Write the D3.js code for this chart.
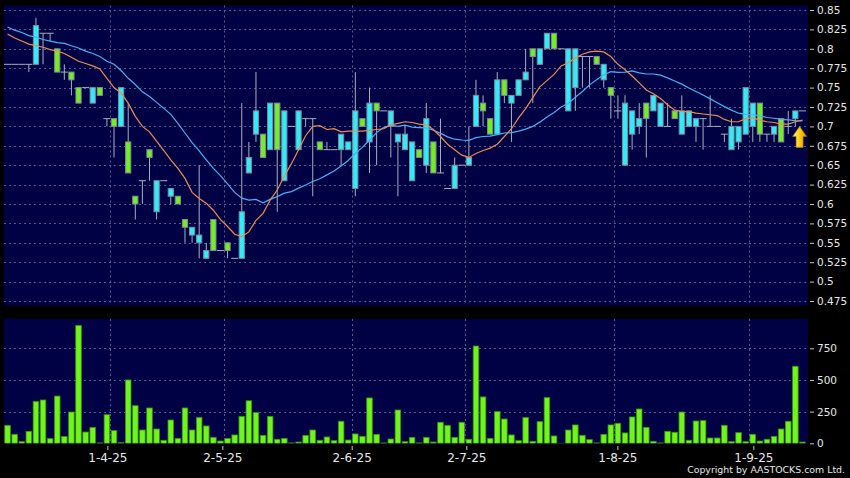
<!DOCTYPE html>
<html><head><meta charset="utf-8">
<script src="https://cdn.jsdelivr.net/npm/d3@7"></script>
<style>
html,body{margin:0;padding:0;background:#000;}
svg{display:block;}
</style></head><body>
<svg id="c" width="850" height="478"></svg>
<script>
// ---------- DATA ----------
const opens=[
.78,.78,.78,.78,.78,.82,.82,.80,.77,.77,
.75,.75,.73,.75,.71,.71,.70,.68,.61,.63,
.67,.59,.63,.61,.61,.58,.56,.55,.53,.58,
.54,.55,.53,.53,.64,.69,.69,.67,.73,.63,
.70,.67,.71,.71,.68,.67,.67,.67,.67,.62,
.71,.68,.73,.72,.70,.68,.67,.63,.67,.65,
.68,.64,.62,.62,.65,.65,.70,.73,.71,.69,
.76,.73,.74,.76,.80,.78,.80,.82,.80,.72,
.75,.79,.79,.79,.76,.75,.72,.65,.69,.70,
.73,.72,.70,.70,.72,.69,.70,.70,.71,.70,
.70,.69,.67,.68,.69,.70,.73,.69,.69,.71,
.70,.71,.72];
const highs=[
.78,.78,.78,.78,.84,.82,.82,.80,.78,.77,
.75,.75,.75,.75,.71,.71,.75,.73,.61,.63,
.67,.63,.63,.62,.61,.58,.57,.65,.55,.58,
.54,.55,.53,.73,.68,.77,.69,.73,.73,.72,
.70,.72,.71,.71,.68,.68,.67,.69,.68,.77,
.71,.75,.73,.72,.72,.69,.70,.68,.67,.73,
.68,.71,.62,.66,.65,.70,.76,.74,.71,.77,
.76,.74,.76,.80,.80,.80,.82,.82,.80,.80,
.80,.79,.79,.79,.78,.75,.74,.74,.72,.73,
.73,.74,.73,.73,.72,.74,.72,.71,.71,.74,
.70,.69,.71,.70,.75,.73,.73,.69,.70,.71,
.72,.72,.72];
const lows=[
.78,.78,.78,.77,.78,.78,.81,.77,.76,.74,
.73,.75,.73,.74,.70,.66,.70,.64,.58,.60,
.63,.58,.63,.60,.60,.55,.55,.53,.53,.54,
.54,.53,.53,.53,.64,.68,.66,.67,.59,.63,
.70,.67,.70,.61,.67,.67,.67,.65,.67,.61,
.70,.64,.65,.72,.66,.61,.67,.63,.66,.64,
.64,.64,.62,.62,.65,.65,.70,.70,.69,.69,
.73,.68,.74,.76,.73,.78,.80,.80,.80,.72,
.72,.75,.75,.78,.75,.71,.71,.65,.67,.69,
.66,.72,.70,.70,.71,.69,.70,.68,.67,.70,
.70,.68,.67,.67,.69,.68,.68,.68,.68,.68,
.69,.70,.72];
const closes=[
.78,.78,.78,.78,.83,.82,.82,.77,.77,.76,
.73,.75,.75,.74,.71,.70,.75,.64,.60,.63,
.66,.63,.63,.62,.60,.57,.57,.56,.54,.54,
.54,.54,.53,.59,.66,.72,.66,.73,.67,.72,
.70,.72,.71,.71,.67,.67,.67,.69,.68,.72,
.70,.73,.72,.72,.72,.69,.69,.68,.66,.71,
.64,.64,.62,.65,.65,.66,.74,.72,.69,.76,
.74,.74,.76,.77,.79,.80,.82,.80,.80,.80,
.80,.79,.79,.78,.78,.74,.72,.73,.72,.71,
.71,.74,.73,.70,.71,.72,.72,.71,.71,.70,
.70,.69,.70,.70,.75,.73,.69,.69,.70,.68,
.70,.72,.72];
const volumes=[
142,71,13,95,331,342,37,373,53,247,
930,89,126,3,226,100,5,500,297,105,
279,113,24,184,39,279,105,203,137,47,
18,39,66,213,336,242,63,213,32,39,
3,10,63,105,24,50,21,174,26,74,
55,358,71,3,34,263,13,47,3,47,
10,166,142,47,166,32,768,366,39,250,
192,66,21,203,16,171,361,58,0,105,
145,63,29,3,71,145,158,82,208,271,
126,16,3,95,87,247,24,176,179,42,
42,142,13,84,13,71,18,32,55,113,
174,608,10];
const ma10=[
.819,.814,.810,.806,.804,.802,.799,.797,.794,.789,
.784,.781,.778,.774,.762,.750,.743,.730,.713,.700,
.693,.681,.669,.657,.646,.633,.615,.607,.601,.592,
.580,.571,.561,.558,.564,.579,.588,.605,.618,.636,
.652,.670,.688,.700,.701,.696,.697,.693,.694,.694,
.694,.695,.696,.697,.702,.704,.706,.705,.703,.702,
.696,.687,.677,.670,.663,.660,.665,.669,.672,.677,
.687,.697,.711,.723,.737,.751,.759,.767,.778,.782,
.788,.793,.796,.797,.796,.790,.780,.773,.765,.756,
.747,.742,.736,.728,.721,.719,.719,.717,.716,.715,
.714,.709,.706,.706,.710,.711,.708,.706,.705,.703,
.703,.706,.708];
const ma20=[
.828,.824,.821,.817,.815,.812,.810,.808,.807,.804,
.801,.797,.794,.790,.784,.780,.772,.762,.754,.7445,
.7385,.731,.7235,.7155,.704,.6915,.679,.6685,.657,.646,
.6365,.626,.615,.6075,.605,.606,.6015,.606,.6095,.614,
.616,.6205,.6245,.629,.6325,.6375,.6425,.649,.656,.665,
.673,.6825,.692,.6985,.7015,.700,.7015,.699,.6985,.698,
.695,.691,.6865,.6835,.6825,.682,.6855,.687,.6875,.6895,
.6915,.692,.694,.6965,.700,.7055,.712,.718,.725,.7295,
.7375,.745,.7535,.760,.7665,.7705,.7695,.770,.7715,.769,
.7675,.7675,.766,.7625,.7585,.7545,.7495,.745,.7405,.7355,
.7305,.7255,.721,.717,.7155,.715,.7135,.7115,.7105,.709,
.7085,.7075,.707];
const priceTicks=[0.85,0.825,0.8,0.775,0.75,0.725,0.7,0.675,0.65,0.625,0.6,0.575,0.55,0.525,0.5,0.475];
const priceTickLabels=["0.85","0.825","0.8","0.775","0.75","0.725","0.7","0.675","0.65","0.625","0.6","0.575","0.55","0.525","0.5","0.475"];
const volTicks=[0,250,500,750];
const volTickLabels=["0","250","500","750"];
const dateLabels=["1-4-25","2-5-25","2-6-25","2-7-25","1-8-25","1-9-25"];
const dateTickIdx=[14.06,30.26,48.49,64.64,85.92,105.08];   // label positions (bar index units)
const monthGridIdx=[14.5,30.5,48.5,64.5,85.5,104.5];          // vertical grid (bar boundaries)
const signalArrow={index:111.6, price:0.70};

// ---------- STYLE ----------
const NAVY="#000044", GRID="#7a7aa6", CYAN="#30ecf8", GREEN="#74ee20",
      WICK="#aab0b8", EDGE="#7d8c9c", VOLF="#70f51c", VOLS="#3a8c12",
      MAO="#ee8a50", MAB="#45b2f5", TXT="#e8e8e8";
const FONT='"DejaVu Sans", Verdana, sans-serif';

const svg=d3.select("#c");
const W=850,H=478;
svg.append("rect").attr("width",W).attr("height",H).attr("fill","#000");

const PL=4, PR=808;
const mainTop=5.5, mainBot=305.5, volTop=319, volBot=443.5;

const n=closes.length;
const x=d3.scaleLinear().domain([-0.5,n-0.5]).range([4,806]);
const y=d3.scaleLinear().domain([0.475,0.85]).range([301,10]);
const yv=d3.scaleLinear().domain([0,750]).range([443.3,348.3]);

// panels
svg.append("rect").attr("x",PL).attr("y",mainTop).attr("width",PR-PL).attr("height",mainBot-mainTop).attr("fill",NAVY);
svg.append("rect").attr("x",PL).attr("y",volTop).attr("width",PR-PL).attr("height",volBot-volTop).attr("fill",NAVY);

const defs=svg.append("defs");
defs.append("clipPath").attr("id","clipMain").append("rect")
  .attr("x",PL).attr("y",mainTop).attr("width",PR-PL).attr("height",mainBot-mainTop);
defs.append("clipPath").attr("id","clipVol").append("rect")
  .attr("x",PL).attr("y",volTop).attr("width",PR-PL).attr("height",volBot-volTop);

// grids
const gMainGrid=svg.append("g").attr("stroke",GRID).attr("stroke-width",1).attr("stroke-dasharray","2,3").attr("opacity",0.75);
gMainGrid.selectAll("line.h").data(priceTicks).join("line")
  .attr("x1",PL).attr("x2",PR).attr("y1",d=>Math.round(y(d))+0.5).attr("y2",d=>Math.round(y(d))+0.5);
gMainGrid.selectAll("line.v").data(monthGridIdx).join("line")
  .attr("x1",d=>Math.round(x(d))+0.5).attr("x2",d=>Math.round(x(d))+0.5).attr("y1",mainTop).attr("y2",mainBot);

const gVolGrid=svg.append("g").attr("stroke",GRID).attr("stroke-width",1).attr("stroke-dasharray","2,3").attr("opacity",0.75);
gVolGrid.selectAll("line.h").data(volTicks.filter(d=>d>0)).join("line")
  .attr("x1",PL).attr("x2",PR).attr("y1",d=>Math.round(yv(d))+0.5).attr("y2",d=>Math.round(yv(d))+0.5);
gVolGrid.selectAll("line.v").data(monthGridIdx).join("line")
  .attr("x1",d=>Math.round(x(d))+0.5).attr("x2",d=>Math.round(x(d))+0.5).attr("y1",volTop).attr("y2",volBot);

// candles
const idx=d3.range(n);
const gC=svg.append("g").attr("clip-path","url(#clipMain)");
gC.selectAll("line.wick").data(idx.filter(i=>highs[i]>lows[i])).join("line")
  .attr("x1",i=>x(i)).attr("x2",i=>x(i))
  .attr("y1",i=>y(highs[i])).attr("y2",i=>y(lows[i]))
  .attr("stroke",WICK).attr("stroke-width",1);
gC.selectAll("line.doji").data(idx.filter(i=>opens[i]===closes[i])).join("line")
  .attr("x1",i=>x(i)-3.5).attr("x2",i=>x(i)+3.5)
  .attr("y1",i=>y(closes[i])).attr("y2",i=>y(closes[i]))
  .attr("stroke",WICK).attr("stroke-width",1);
gC.selectAll("rect.body").data(idx.filter(i=>opens[i]!==closes[i])).join("rect")
  .attr("x",i=>x(i)-2.6).attr("width",5.2)
  .attr("y",i=>y(Math.max(opens[i],closes[i])))
  .attr("height",i=>y(Math.min(opens[i],closes[i]))-y(Math.max(opens[i],closes[i])))
  .attr("fill",i=>closes[i]>opens[i]?CYAN:GREEN)
  .attr("stroke",EDGE).attr("stroke-width",1);

// moving averages
const line=d3.line().x((d,i)=>x(i)).y(d=>y(d));
gC.append("path").datum(ma20).attr("d",line).attr("fill","none").attr("stroke",MAB).attr("stroke-width",1.2);
gC.append("path").datum(ma10).attr("d",line).attr("fill","none").attr("stroke",MAO).attr("stroke-width",1.2);

// signal arrow
const grad=defs.append("linearGradient").attr("id","gold").attr("x1","0").attr("x2","1").attr("y1","0").attr("y2","0");
grad.append("stop").attr("offset","0%").attr("stop-color","#fff6a8");
grad.append("stop").attr("offset","45%").attr("stop-color","#ffd21a");
grad.append("stop").attr("offset","100%").attr("stop-color","#d99200");
const ax=x(signalArrow.index), ay=y(signalArrow.price);
svg.append("path")
  .attr("d",`M${ax},${ay} L${ax+7},${ay+10} L${ax+3.5},${ay+10} L${ax+3.5},${ay+21} L${ax-3.5},${ay+21} L${ax-3.5},${ay+10} L${ax-7},${ay+10} Z`)
  .attr("fill","url(#gold)").attr("stroke","#b07800").attr("stroke-width",0.6);

// volume bars
const gV=svg.append("g").attr("clip-path","url(#clipVol)");
gV.selectAll("rect").data(idx).join("rect")
  .attr("x",i=>x(i)-2.8).attr("width",5.6)
  .attr("y",i=>yv(volumes[i])).attr("height",i=>Math.max(0.01,yv(0)-yv(volumes[i])))
  .attr("fill",VOLF).attr("stroke",VOLS).attr("stroke-width",0.8);

// axes
function styleAxis(g,size){
  g.select(".domain").remove();
  g.selectAll(".tick line").attr("stroke","#c8c8c8");
  g.selectAll(".tick text").attr("fill",TXT).style("font-family",FONT).style("font-size",size);
}
const axP=d3.axisRight(y).tickValues(priceTicks).tickFormat((d,i)=>priceTickLabels[i]).tickSize(4).tickPadding(3);
svg.append("g").attr("transform","translate(810,0)").call(axP).call(g=>styleAxis(g,"10.5px"));
const axV=d3.axisRight(yv).tickValues(volTicks).tickFormat((d,i)=>volTickLabels[i]).tickSize(4).tickPadding(3);
svg.append("g").attr("transform","translate(810,0)").call(axV).call(g=>styleAxis(g,"10.5px"));
const axD=d3.axisBottom(x).tickValues(dateTickIdx).tickFormat((d,i)=>dateLabels[i]).tickSize(4).tickPadding(3.5);
svg.append("g").attr("transform","translate(0,446)").call(axD).call(g=>styleAxis(g,"12px"));

// copyright
svg.append("text").attr("x",845).attr("y",473).attr("text-anchor","end")
  .attr("fill",TXT).style("font-family",FONT).style("font-size","9.4px")
  .text("Copyright by AASTOCKS.com Ltd.");
</script>
</body></html>
